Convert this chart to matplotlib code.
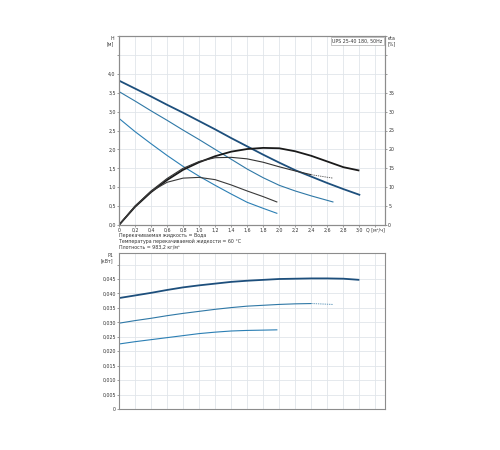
import matplotlib
matplotlib.use("Agg")
import matplotlib.pyplot as plt

# ---------------- data ----------------
q3 = [0.0, 0.2, 0.4, 0.6, 0.8, 1.0, 1.2, 1.4, 1.6, 1.8, 2.0, 2.2, 2.4, 2.6, 2.8, 3.0]
h3 = [3.82, 3.61, 3.40, 3.18, 2.97, 2.75, 2.53, 2.30, 2.08, 1.86, 1.65, 1.45, 1.28, 1.11, 0.95, 0.80]
eta3 = [0.0, 4.8, 8.7, 11.9, 14.6, 16.6, 18.2, 19.4, 20.1, 20.4, 20.3, 19.5, 18.3, 16.8, 15.3, 14.4]
p3 = [0.0384, 0.0393, 0.0402, 0.0412, 0.0421, 0.0428, 0.0434, 0.0440, 0.0444, 0.0447, 0.0450,
      0.0451, 0.0452, 0.0452, 0.0451, 0.0447]

q2 = [0.0, 0.2, 0.4, 0.6, 0.8, 1.0, 1.2, 1.4, 1.6, 1.8, 2.0, 2.2, 2.4, 2.67]
h2 = [3.53, 3.28, 3.02, 2.77, 2.51, 2.26, 2.00, 1.74, 1.48, 1.25, 1.05, 0.90, 0.77, 0.61]
eta2 = [0.0, 5.0, 9.0, 12.3, 15.0, 16.8, 17.8, 17.9, 17.5, 16.6, 15.4, 14.3, 13.3, 12.4]
p2 = [0.0297, 0.0306, 0.0314, 0.0323, 0.0331, 0.0338, 0.0345, 0.0351, 0.0356, 0.0359, 0.0362,
      0.0364, 0.0365, 0.0362]

q1 = [0.0, 0.2, 0.4, 0.6, 0.8, 1.0, 1.2, 1.4, 1.6, 1.8, 1.97]
h1 = [2.82, 2.47, 2.15, 1.84, 1.55, 1.29, 1.05, 0.82, 0.60, 0.44, 0.31]
eta1 = [0.0, 5.0, 8.9, 11.3, 12.4, 12.6, 12.0, 10.6, 9.0, 7.5, 6.1]
p1 = [0.0225, 0.0233, 0.0240, 0.0247, 0.0254, 0.0261, 0.0266, 0.0270, 0.0272, 0.0273, 0.0274]

x_ticks = [0.0, 0.2, 0.4, 0.6, 0.8, 1.0, 1.2, 1.4, 1.6, 1.8, 2.0, 2.2, 2.4, 2.6, 2.8, 3.0, 3.2]
x_labels = ["0", "0,2", "0,4", "0,6", "0,8", "1,0", "1,2", "1,4", "1,6", "1,8", "2,0",
            "2,2", "2,4", "2,6", "2,8", "3,0", "Q [м³/ч]"]
h_ticks = [0.0, 0.5, 1.0, 1.5, 2.0, 2.5, 3.0, 3.5, 4.0, 4.5, 5.0]
h_labels = ["0,0", "0,5", "1,0", "1,5", "2,0", "2,5", "3,0", "3,5", "4,0", "", ""]
eta_ticks = [0, 5, 10, 15, 20, 25, 30, 35, 40, 45, 50]
eta_labels = ["0", "5", "10", "15", "20", "25", "30", "35", "", "", ""]
p_ticks = [0.0, 0.005, 0.010, 0.015, 0.020, 0.025, 0.030, 0.035, 0.040, 0.045, 0.050]
p_labels = ["0", "0,005", "0,010", "0,015", "0,020", "0,025", "0,030", "0,035", "0,040", "0,045", ""]

info_lines = ["Перекачиваемая жидкость = Вода",
              "Температура перекачиваемой жидкости = 60 °C",
              "Плотность = 983,2 кг/м³"]
legend_text = "UPS 25-40 180, 50Hz"

# ---------------- style ----------------
C3 = "#1d4f7c"
C2 = "#2f78a6"
C1 = "#2b7fb4"
E3 = "#1a1a1a"
E2 = "#333333"
E1 = "#3a3a3a"
GRID = "#e1e5ea"
SPINE = "#8c8c8c"
FS = 3.4

plt.rcParams['font.family'] = ['DejaVu Sans']

fig = plt.figure(figsize=(5, 4.5), dpi=100)
ax = fig.add_axes([0.238, 0.5, 0.532, 0.42])
axr = ax.twinx()
axb = fig.add_axes([0.238, 0.0911, 0.532, 0.3467])

XMAX = 3.32


def style(a):
    for s in a.spines.values():
        s.set_color(SPINE)
        s.set_linewidth(0.8)
    a.tick_params(axis='both', labelsize=FS, length=1.5, width=0.4, color="#555555",
                  pad=0.8, labelcolor="#333333")


def plot_split(a, xs, ys, n_dash, color, lw):
    # solid main part, dashed extrapolated tail
    k = len(xs) - n_dash
    a.plot(xs[:k + 1], ys[:k + 1], color=color, lw=lw, solid_capstyle='butt')
    if n_dash > 0:
        a.plot(xs[k:], ys[k:], color=color, lw=lw * 0.8, ls=(0, (1.5, 1.0)), alpha=0.8)


# top chart
style(ax)
style(axr)
ax.set_xlim(0, XMAX)
ax.set_ylim(0, 5.0)
axr.set_ylim(0, 50)
ax.set_xticks(x_ticks)
ax.set_xticklabels(x_labels)
ax.tick_params(axis='x', pad=0.5)
ax.set_yticks(h_ticks)
ax.set_yticklabels(h_labels)
axr.set_yticks(eta_ticks)
axr.set_yticklabels(eta_labels)
ax.grid(True, color=GRID, lw=0.6)
ax.set_axisbelow(True)

ax.plot(q3, h3, color=C3, lw=1.3)
ax.plot(q2, h2, color=C2, lw=0.8)
ax.plot(q1, h1, color=C1, lw=0.8)
plot_split(axr, q3, eta3, 1, E3, 1.3)
plot_split(axr, q2, eta2, 2, E2, 0.8)
axr.plot(q1, eta1, color=E1, lw=0.8)

ax.text(-0.02, 1.0, "H\n[м]", transform=ax.transAxes, ha='right', va='top',
        fontsize=FS, color="#333333", linespacing=1.1)
axr.text(1.01, 1.0, "eta\n[%]", transform=ax.transAxes, ha='left', va='top',
         fontsize=FS, color="#333333", linespacing=1.1)
ax.text(0.99, 0.985, legend_text, transform=ax.transAxes, ha='right', va='top',
        fontsize=FS, color="#333333",
        bbox=dict(boxstyle='square,pad=0.3', fc='white', ec='#999999', lw=0.4))

for i, line in enumerate(info_lines):
    fig.text(0.238, 0.476 - i * 0.0125, line, fontsize=FS, color="#333333",
             ha='left', va='center')

# bottom chart
style(axb)
axb.set_xlim(0, XMAX)
axb.set_ylim(0, 0.054)
axb.set_xticks(x_ticks)
axb.set_xticklabels([])
axb.tick_params(axis='x', length=0)
axb.set_yticks(p_ticks)
axb.set_yticklabels(p_labels)
axb.grid(True, color=GRID, lw=0.6)
axb.set_axisbelow(True)

plot_split(axb, q3, p3, 1, C3, 1.3)
plot_split(axb, q2, p2, 2, C2, 0.8)
axb.plot(q1, p1, color=C1, lw=0.8)

axb.text(-0.02, 1.0, "P1\n[кВт]", transform=axb.transAxes, ha='right', va='top',
         fontsize=FS, color="#333333", linespacing=1.1)

fig.savefig("out.png", dpi=100, facecolor='white')
